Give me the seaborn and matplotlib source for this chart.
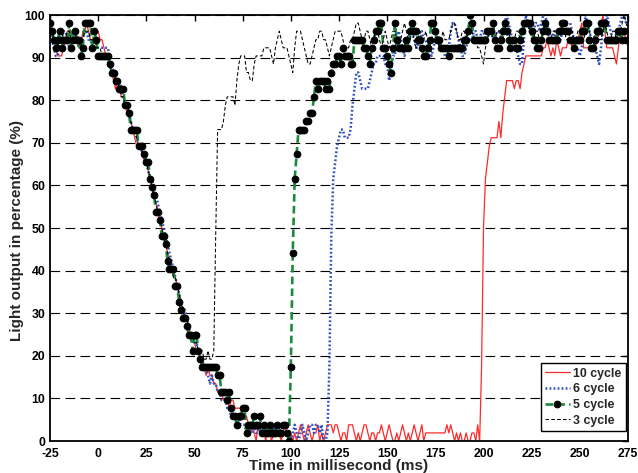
import matplotlib
matplotlib.use("Agg")
import matplotlib.pyplot as plt
import pandas as pd
import seaborn as sns

# sample times, 1 ms apart
time_ms = list(range(-25, 276))

cycle10 = [
    100.0, 96.2, 94.2, 92.3, 90.4, 90.4, 90.4, 92.3, 94.2, 96.2,
    96.2, 96.2, 94.2, 94.2, 94.2, 92.3, 92.3, 96.2, 96.2, 98.1,
    96.2, 94.2, 94.2, 94.2, 96.2, 96.2, 94.2, 94.2, 92.3, 90.4,
    90.4, 88.5, 86.5, 84.6, 82.7, 84.6, 82.7, 80.8, 80.8, 78.8,
    76.9, 76.9, 75.0, 73.1, 71.2, 69.2, 69.2, 69.2, 67.3, 65.4,
    65.4, 63.5, 61.5, 59.6, 57.7, 55.8, 53.8, 51.9, 50.0, 48.1,
    46.2, 44.2, 42.3, 40.4, 40.4, 38.5, 36.5, 34.6, 32.7, 30.8,
    28.8, 28.8, 26.9, 25.0, 23.1, 23.1, 21.2, 21.2, 19.2, 19.2,
    17.3, 15.4, 17.3, 15.4, 15.4, 13.5, 13.5, 11.5, 11.5, 11.5,
    9.6, 9.6, 9.6, 7.7, 9.6, 9.6, 7.7, 7.7, 7.7, 7.7,
    5.8, 5.8, 5.8, 3.8, 1.9, 3.8, 1.9, 0.0, 3.8, 1.9,
    3.8, 1.9, 0.0, 3.8, 1.9, 0.0, 1.9, 3.8, 1.9, 1.9,
    0.0, 1.9, 3.8, 1.9, 0.0, 1.9, 0.0, 1.9, 0.0, 1.9,
    3.8, 1.9, 0.0, 1.9, 3.8, 1.9, 0.0, 1.9, 1.9, 3.8,
    0.0, 1.9, 0.0, 1.9, 3.8, 3.8, 3.8, 1.9, 3.8, 3.8,
    1.9, 0.0, 1.9, 1.9, 0.0, 3.8, 3.8, 3.8, 1.9, 0.0,
    1.9, 0.0, 1.9, 3.8, 3.8, 1.9, 0.0, 1.9, 1.9, 0.0,
    1.9, 1.9, 3.8, 1.9, 0.0, 1.9, 3.8, 1.9, 0.0, 0.0,
    1.9, 0.0, 1.9, 3.8, 1.9, 0.0, 1.9, 0.0, 1.9, 3.8,
    1.9, 0.0, 1.9, 3.8, 0.0, 1.9, 1.9, 1.9, 1.9, 1.9,
    1.9, 1.9, 1.9, 1.9, 1.9, 1.9, 3.8, 1.9, 3.8, 1.9,
    0.0, 1.9, 0.0, 1.9, 0.0, 0.0, 1.9, 0.0, 0.0, 1.9,
    1.9, 0.0, 3.8, 0.0, 17.3, 50.0, 61.5, 65.4, 69.2, 71.2,
    71.2, 71.2, 71.2, 75.0, 71.2, 76.9, 80.8, 84.6, 84.6, 84.6,
    84.6, 82.7, 84.6, 84.6, 82.7, 86.5, 88.5, 90.4, 90.4, 90.4,
    90.4, 90.4, 90.4, 90.4, 90.4, 90.4, 92.3, 92.3, 94.2, 92.3,
    90.4, 92.3, 90.4, 94.2, 92.3, 90.4, 92.3, 92.3, 92.3, 94.2,
    94.2, 92.3, 94.2, 94.2, 94.2, 96.2, 98.1, 92.3, 92.3, 92.3,
    92.3, 92.3, 92.3, 92.3, 94.2, 96.2, 98.1, 100.0, 96.2, 92.3,
    92.3, 92.3, 92.3, 90.4, 88.5, 92.3, 96.2, 94.2, 94.2, 96.2,
    96.2,
]

cycle6 = [
    96.2, 94.2, 92.3, 90.4, 90.4, 92.3, 94.2, 96.2, 96.2, 94.2,
    92.3, 94.2, 96.2, 96.2, 94.2, 92.3, 92.3, 94.2, 96.2, 96.2,
    94.2, 94.2, 92.3, 94.2, 94.2, 92.3, 92.3, 92.3, 92.3, 92.3,
    92.3, 90.4, 88.5, 86.5, 86.5, 84.6, 84.6, 82.7, 80.8, 78.8,
    78.8, 76.9, 75.0, 73.1, 73.1, 71.2, 69.2, 69.2, 67.3, 67.3,
    65.4, 63.5, 61.5, 61.5, 59.6, 57.7, 55.8, 53.8, 51.9, 50.0,
    48.1, 46.2, 44.2, 42.3, 40.4, 38.5, 36.5, 34.6, 32.7, 30.8,
    30.8, 28.8, 26.9, 25.0, 25.0, 23.1, 23.1, 21.2, 19.2, 19.2,
    17.3, 17.3, 15.4, 13.5, 15.4, 13.5, 13.5, 11.5, 11.5, 9.6,
    9.6, 9.6, 7.7, 7.7, 5.8, 5.8, 5.8, 3.8, 5.8, 3.8,
    3.8, 3.8, 1.9, 3.8, 3.8, 1.9, 3.8, 1.9, 1.9, 3.8,
    1.9, 1.9, 3.8, 1.9, 1.9, 1.9, 3.8, 1.9, 1.9, 1.9,
    3.8, 1.9, 1.9, 1.9, 1.9, 0.0, 1.9, 3.8, 1.9, 0.0,
    1.9, 3.8, 1.9, 0.0, 1.9, 3.8, 3.8, 1.9, 3.8, 3.8,
    1.9, 3.8, 0.0, 0.0, 1.9, 17.3, 48.1, 61.5, 65.4, 69.2,
    71.2, 73.1, 73.1, 71.2, 71.2, 71.2, 73.1, 78.8, 82.7, 86.5,
    86.5, 84.6, 82.7, 82.7, 82.7, 82.7, 84.6, 86.5, 88.5, 88.5,
    90.4, 90.4, 90.4, 90.4, 88.5, 88.5, 84.6, 86.5, 90.4, 90.4,
    94.2, 96.2, 94.2, 92.3, 90.4, 92.3, 94.2, 96.2, 96.2, 94.2,
    92.3, 92.3, 96.2, 96.2, 94.2, 94.2, 92.3, 92.3, 90.4, 92.3,
    94.2, 96.2, 94.2, 92.3, 92.3, 90.4, 90.4, 92.3, 96.2, 98.1,
    98.1, 96.2, 94.2, 92.3, 90.4, 90.4, 92.3, 94.2, 94.2, 94.2,
    96.2, 96.2, 94.2, 94.2, 96.2, 96.2, 94.2, 94.2, 96.2, 96.2,
    94.2, 94.2, 96.2, 96.2, 96.2, 96.2, 98.1, 100.0, 98.1, 96.2,
    94.2, 92.3, 92.3, 90.4, 88.5, 88.5, 94.2, 100.0, 98.1, 96.2,
    96.2, 96.2, 98.1, 98.1, 96.2, 98.1, 100.0, 100.0, 98.1, 96.2,
    94.2, 94.2, 96.2, 96.2, 94.2, 94.2, 96.2, 98.1, 98.1, 98.1,
    98.1, 96.2, 94.2, 92.3, 92.3, 90.4, 92.3, 96.2, 100.0, 98.1,
    96.2, 94.2, 94.2, 92.3, 90.4, 88.5, 92.3, 96.2, 98.1, 100.0,
    98.1, 96.2, 94.2, 94.2, 94.2, 96.2, 98.1, 100.0, 100.0, 98.1,
    98.1,
]

cycle5 = [
    98.1, 96.2, 94.2, 92.3, 94.2, 96.2, 92.3, 94.2, 94.2, 94.2,
    98.1, 92.3, 94.2, 96.2, 94.2, 94.2, 90.4, 92.3, 98.1, 98.1,
    98.1, 98.1, 92.3, 96.2, 94.2, 90.4, 90.4, 90.4, 90.4, 90.4,
    90.4, 88.5, 86.5, 86.5, 84.6, 84.6, 82.7, 82.7, 82.7, 78.8,
    78.8, 76.9, 73.1, 73.1, 73.1, 73.1, 69.2, 69.2, 69.2, 67.3,
    65.4, 65.4, 61.5, 59.6, 57.7, 53.8, 53.8, 51.9, 48.1, 48.1,
    46.2, 42.3, 40.4, 40.4, 40.4, 36.5, 36.5, 32.7, 30.8, 28.8,
    28.8, 26.9, 25.0, 25.0, 21.2, 25.0, 25.0, 21.2, 19.2, 17.3,
    17.3, 17.3, 17.3, 17.3, 17.3, 17.3, 17.3, 15.4, 15.4, 11.5,
    11.5, 11.5, 9.6, 11.5, 7.7, 5.8, 5.8, 3.8, 5.8, 5.8,
    7.7, 7.7, 1.9, 3.8, 3.8, 3.8, 5.8, 3.8, 3.8, 5.8,
    1.9, 3.8, 1.9, 1.9, 3.8, 1.9, 1.9, 1.9, 3.8, 1.9,
    1.9, 3.8, 3.8, 1.9, 0.0, 17.3, 44.2, 61.5, 67.3, 73.1,
    73.1, 73.1, 73.1, 75.0, 75.0, 76.9, 76.9, 80.8, 84.6, 82.7,
    84.6, 84.6, 84.6, 82.7, 84.6, 82.7, 86.5, 88.5, 88.5, 90.4,
    90.4, 88.5, 92.3, 90.4, 90.4, 90.4, 88.5, 88.5, 94.2, 94.2,
    94.2, 94.2, 94.2, 92.3, 92.3, 90.4, 88.5, 92.3, 94.2, 96.2,
    96.2, 98.1, 98.1, 92.3, 92.3, 90.4, 88.5, 86.5, 92.3, 98.1,
    94.2, 92.3, 92.3, 92.3, 92.3, 94.2, 92.3, 96.2, 98.1, 96.2,
    96.2, 94.2, 94.2, 92.3, 90.4, 90.4, 92.3, 94.2, 98.1, 98.1,
    96.2, 94.2, 94.2, 92.3, 92.3, 92.3, 92.3, 90.4, 92.3, 92.3,
    92.3, 92.3, 92.3, 92.3, 92.3, 94.2, 94.2, 96.2, 100.0, 98.1,
    94.2, 94.2, 94.2, 94.2, 94.2, 94.2, 94.2, 96.2, 96.2, 96.2,
    98.1, 94.2, 92.3, 92.3, 94.2, 96.2, 98.1, 96.2, 94.2, 92.3,
    94.2, 94.2, 92.3, 92.3, 94.2, 96.2, 98.1, 98.1, 98.1, 98.1,
    96.2, 94.2, 94.2, 92.3, 92.3, 94.2, 96.2, 98.1, 96.2, 94.2,
    94.2, 94.2, 94.2, 94.2, 96.2, 96.2, 98.1, 98.1, 96.2, 96.2,
    94.2, 94.2, 92.3, 94.2, 94.2, 94.2, 96.2, 96.2, 98.1, 98.1,
    94.2, 92.3, 92.3, 94.2, 96.2, 96.2, 98.1, 98.1, 98.1, 94.2,
    94.2, 94.2, 94.2, 94.2, 94.2, 96.2, 96.2, 94.2, 96.2, 94.2,
    94.2,
]

cycle3 = [
    98.1, 96.2, 94.2, 94.2, 92.3, 94.2, 96.2, 94.2, 94.2, 96.2,
    96.2, 94.2, 92.3, 94.2, 96.2, 94.2, 92.3, 94.2, 96.2, 96.2,
    96.2, 94.2, 94.2, 94.2, 92.3, 92.3, 92.3, 90.4, 90.4, 90.4,
    88.5, 88.5, 86.5, 86.5, 84.6, 84.6, 82.7, 80.8, 80.8, 78.8,
    78.8, 76.9, 75.0, 73.1, 73.1, 71.2, 69.2, 69.2, 67.3, 67.3,
    65.4, 63.5, 61.5, 59.6, 57.7, 55.8, 53.8, 51.9, 50.0, 48.1,
    46.2, 44.2, 42.3, 40.4, 38.5, 38.5, 36.5, 34.6, 32.7, 30.8,
    28.8, 28.8, 26.9, 25.0, 25.0, 23.1, 23.1, 21.2, 21.2, 21.2,
    19.2, 19.2, 21.2, 19.2, 19.2, 21.2, 48.1, 73.1, 73.1, 73.1,
    75.0, 78.8, 80.8, 80.8, 80.8, 80.8, 78.8, 84.6, 88.5, 90.4,
    90.4, 90.4, 86.5, 86.5, 84.6, 84.6, 88.5, 90.4, 90.4, 90.4,
    90.4, 92.3, 92.3, 92.3, 92.3, 90.4, 88.5, 92.3, 94.2, 96.2,
    94.2, 92.3, 92.3, 92.3, 90.4, 88.5, 86.5, 92.3, 96.2, 96.2,
    96.2, 94.2, 92.3, 90.4, 88.5, 88.5, 90.4, 92.3, 94.2, 94.2,
    96.2, 96.2, 94.2, 94.2, 92.3, 90.4, 92.3, 94.2, 96.2, 96.2,
    96.2, 96.2, 94.2, 92.3, 92.3, 92.3, 94.2, 94.2, 96.2, 98.1,
    98.1, 96.2, 94.2, 94.2, 96.2, 96.2, 94.2, 92.3, 94.2, 96.2,
    96.2, 94.2, 92.3, 94.2, 96.2, 94.2, 92.3, 94.2, 96.2, 96.2,
    94.2, 92.3, 94.2, 96.2, 98.1, 96.2, 94.2, 94.2, 96.2, 94.2,
    92.3, 94.2, 96.2, 94.2, 94.2, 96.2, 94.2, 92.3, 94.2, 96.2,
    96.2, 94.2, 92.3, 94.2, 96.2, 94.2, 94.2, 94.2, 96.2, 98.1,
    98.1, 96.2, 94.2, 94.2, 96.2, 96.2, 94.2, 96.2, 98.1, 96.2,
    94.2, 94.2, 92.3, 92.3, 90.4, 88.5, 92.3, 94.2, 96.2, 96.2,
    94.2, 94.2, 96.2, 96.2, 94.2, 94.2, 96.2, 98.1, 96.2, 94.2,
    94.2, 94.2, 96.2, 96.2, 94.2, 94.2, 96.2, 98.1, 98.1, 96.2,
    94.2, 94.2, 96.2, 96.2, 94.2, 94.2, 96.2, 98.1, 96.2, 94.2,
    94.2, 96.2, 96.2, 94.2, 94.2, 96.2, 98.1, 96.2, 94.2, 94.2,
    96.2, 96.2, 94.2, 94.2, 96.2, 96.2, 94.2, 94.2, 96.2, 98.1,
    96.2, 94.2, 94.2, 96.2, 96.2, 94.2, 94.2, 96.2, 98.1, 96.2,
    94.2, 94.2, 96.2, 96.2, 94.2, 94.2, 96.2, 98.1, 100.0, 98.1,
    96.2,
]

series_names = ["10 cycle", "6 cycle", "5 cycle", "3 cycle"]
x_ticks = [-25, 0, 25, 50, 75, 100, 125, 150, 175, 200, 225, 250, 275]
y_ticks = [0, 10, 20, 30, 40, 50, 60, 70, 80, 90, 100]

sns.set_style("white")
plt.rcParams["font.family"] = ["Liberation Sans", "DejaVu Sans"]
plt.rcParams["font.weight"] = "bold"
plt.rcParams["axes.labelweight"] = "bold"
plt.rcParams["lines.scale_dashes"] = False

data = pd.DataFrame({
    "time": time_ms,
    "10 cycle": cycle10,
    "6 cycle": cycle6,
    "5 cycle": cycle5,
    "3 cycle": cycle3,
})

styles = {
    "10 cycle": dict(color="#ff2a2a", linewidth=0.9, linestyle="-"),
    "6 cycle": dict(color="#2d50c0", linewidth=1.8, linestyle=(0, (1.3, 1.6))),
    "5 cycle": dict(color="#1b8a3e", linewidth=1.9, linestyle=(0, (5.5, 3.0)),
                    marker="o", markersize=4.8, markerfacecolor="black",
                    markeredgecolor="black"),
    "3 cycle": dict(color="black", linewidth=0.75, linestyle=(0, (2.6, 1.6))),
}

fig = plt.figure(figsize=(6.38, 4.73), dpi=100)
ax = fig.add_axes([50 / 638, 1 - 441 / 473, 578 / 638, 426 / 473])

for name in series_names:
    sns.lineplot(data=data, x="time", y=name, ax=ax, label=name, **styles[name])

ax.set_xlim(-25, 275)
ax.set_ylim(0, 100)
ax.set_xticks(x_ticks)
ax.set_yticks(y_ticks)
ax.set_xticklabels([str(v) for v in x_ticks])
ax.set_yticklabels([str(v) for v in y_ticks])

ax.yaxis.grid(True, color="black", linewidth=0.8, linestyle=(0, (7.0, 3.8)))
ax.xaxis.grid(False)
ax.set_axisbelow(True)

ax.tick_params(direction="in", top=True, right=True, length=4, width=1.0,
               labelsize=8.8, colors="black")
ax.tick_params(axis="x", pad=5)
ax.tick_params(axis="y", pad=3.5)
for side in ax.spines.values():
    side.set_linewidth(1.3)
    side.set_color("black")

ax.set_xlabel("Time in millisecond (ms)", fontsize=11)
ax.set_ylabel("Light output in percentage (%)", fontsize=11)
ax.xaxis.set_label_coords(0.5, -0.042)
ax.yaxis.set_label_coords(-0.045, 0.494)

leg = ax.legend(loc="lower right", bbox_to_anchor=(1 - 2.5 / 578, 10 / 426),
                borderaxespad=0, frameon=True, fancybox=False,
                edgecolor="black", framealpha=1, fontsize=8.9,
                handlelength=2.0, handletextpad=0.25, labelspacing=0.3,
                borderpad=0.35)
leg.get_frame().set_linewidth(1.0)

fig.savefig("out.png", dpi=100)
